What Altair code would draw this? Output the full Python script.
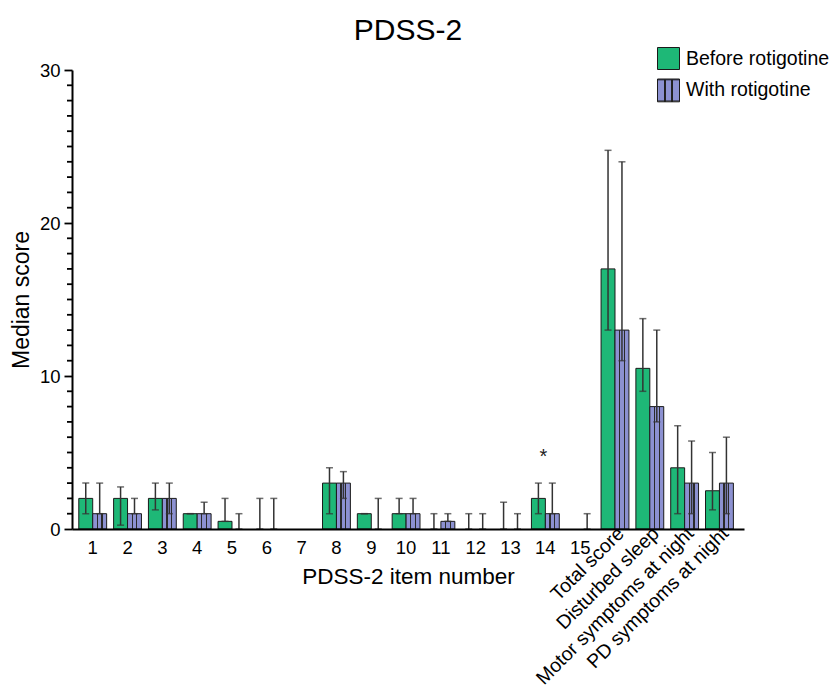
import altair as alt
import pandas as pd

categories = [str(i) for i in range(1, 16)] + [
    "Total score", "Disturbed sleep", "Motor symptoms at night", "PD symptoms at night"]
series = ["Before rotigotine", "With rotigotine"]

before_median = [2, 2, 2, 1, 0.5, 0, 0, 3, 1, 1, 0, 0, 0, 2, 0, 17, 10.5, 4, 2.5]
before_low = [1, 0.25, 1.25, 1, 0.5, 0, None, 1, 1, 1, 0, 0, 0, 1, None, 13, 9, 1, 1.25]
before_high = [3, 2.75, 3, 1, 2, 2, None, 4, 1, 2, 1, 1, 1.75, 3, None, 24.75, 13.75, 6.75, 5]

with_median = [1, 1, 2, 1, 0, 0, 0, 3, 0, 1, 0.5, 0, 0, 1, 0, 13, 8, 3, 3]
with_low = [1, 1, 1, 1, 0, 0, None, 2, 0, 1, 0.5, 0, 0, 1, 0, 11, 7, 1, 1]
with_high = [3, 2, 3, 1.75, 1, 2, None, 3.75, 2, 2, 1, 1, 1, 3, 1, 24, 13, 5.75, 6]

significant_items = ["14"]
significant_marker_y = [5]

y_major_ticks = [0, 10, 20, 30]
y_minor_ticks = [v for v in range(0, 31) if v % 10 != 0]

GREEN = "#1EB877"
BLUE = "#8C91D1"
FONT = "Liberation Sans"

rows = []
for i, c in enumerate(categories):
    rows.append({"cat": c, "series": series[0], "med": before_median[i],
                 "lo": before_low[i], "hi": before_high[i]})
    rows.append({"cat": c, "series": series[1], "med": with_median[i],
                 "lo": with_low[i], "hi": with_high[i]})
df = pd.DataFrame(rows)
sig_df = pd.DataFrame({"cat": significant_items, "y": significant_marker_y})
minor_df = pd.DataFrame({"v": y_minor_ticks})

xscale = alt.Scale(paddingInner=0.2, paddingOuter=0.25, align=0.39)
yscale = alt.Scale(domain=[0, 30], nice=False)

axis_num = alt.Axis(
    orient="bottom", title="PDSS-2 item number", titleFontSize=22.5, titleFontWeight="normal",
    titleColor="black", titleBaseline="top", titleY=36,
    labelAngle=0, labelExpr="length(datum.label) <= 2 ? datum.label : ''",
    labelFontSize=18.5, labelColor="black", labelPadding=9, ticks=False,
    labelOverlap=False, domainColor="black", domainWidth=2, zindex=1)
axis_txt = alt.Axis(
    orient="bottom", title=None, labelAngle=-45, labelAlign="right", labelBaseline="middle",
    labelExpr="length(datum.label) > 2 ? datum.label : ''",
    labelFontSize=19.5, labelColor="black", labelPadding=1, labelOffset=6,
    ticks=False, domain=False,
    labelOverlap=False, labelBound=False, labelLimit=400)
axis_y = alt.Axis(
    orient="left", title="Median score", titleFontSize=23, titleFontWeight="normal",
    titleColor="black", titlePadding=6, values=y_major_ticks, labelOverlap=False,
    labelFontSize=18.5, labelColor="black", labelPadding=4,
    tickColor="black", tickWidth=1.8, tickSize=8,
    domainColor="black", domainWidth=2, grid=False, zindex=1)

base = alt.Chart(df)
xoff = alt.XOffset("series:N", sort=series)

legend_common = dict(title=None, symbolSize=484, symbolStrokeWidth=1, symbolOpacity=1,
                     labelFontSize=19.5, labelColor="black", labelOffset=6,
                     rowPadding=4.5, padding=0, labelFont=FONT)

bars = base.transform_filter(alt.datum.med > 0).mark_bar(
    stroke="#1a1a1a", strokeWidth=1).encode(
    x=alt.X("cat:N", sort=categories, scale=xscale, axis=axis_num),
    xOffset=xoff,
    y=alt.Y("med:Q", scale=yscale, axis=axis_y),
    fill=alt.Fill("series:N", scale=alt.Scale(domain=series, range=[GREEN, BLUE]),
                  legend=alt.Legend(orient="none", legendX=585, legendY=-23,
                                    symbolType="square", symbolStrokeColor="#1a1a1a",
                                    **legend_common)),
)

stripe = alt.LinearGradient(
    gradient="linear", x1=0, x2=1, y1=0, y2=0,
    stops=[
        alt.GradientStop(color="rgba(0,0,0,0)", offset=0),
        alt.GradientStop(color="rgba(0,0,0,0)", offset=0.29),
        alt.GradientStop(color="#2a2a2a", offset=0.29),
        alt.GradientStop(color="#2a2a2a", offset=0.37),
        alt.GradientStop(color="rgba(0,0,0,0)", offset=0.37),
        alt.GradientStop(color="rgba(0,0,0,0)", offset=0.63),
        alt.GradientStop(color="#2a2a2a", offset=0.63),
        alt.GradientStop(color="#2a2a2a", offset=0.71),
        alt.GradientStop(color="rgba(0,0,0,0)", offset=0.71),
        alt.GradientStop(color="rgba(0,0,0,0)", offset=1),
    ])

striped_square = "M-1,-1H1V1H-1Z M-0.33,-1V1 M0.33,-1V1"
stripes = base.transform_filter(
    (alt.datum.series == series[1]) & (alt.datum.med > 0)
).mark_bar(fill=stripe, strokeWidth=0).encode(
    x=alt.X("cat:N", sort=categories, scale=xscale, axis=None),
    xOffset=xoff,
    y=alt.Y("med:Q", scale=yscale, axis=None),
    stroke=alt.Stroke("series:N", scale=alt.Scale(domain=[series[1]], range=["#1a1a1a"]),
                      legend=alt.Legend(orient="none", legendX=585, legendY=9.3,
                                        symbolType=striped_square,
                                        symbolFillColor=BLUE,
                                        labelExpr="''", **legend_common)),
)

rules = base.mark_rule(color="#333333", strokeWidth=1.5).encode(
    x=alt.X("cat:N", sort=categories, scale=xscale, axis=axis_txt),
    xOffset=xoff,
    y=alt.Y("lo:Q", scale=yscale, axis=None),
    y2="hi:Q",
)
caps_hi = base.mark_tick(color="#333333", thickness=1.5, size=7).encode(
    x=alt.X("cat:N", sort=categories, scale=xscale, axis=None),
    xOffset=xoff,
    y=alt.Y("hi:Q", scale=yscale, axis=None),
)
caps_lo = base.mark_tick(color="#333333", thickness=1.5, size=7).encode(
    x=alt.X("cat:N", sort=categories, scale=xscale, axis=None),
    xOffset=xoff,
    y=alt.Y("lo:Q", scale=yscale, axis=None),
)

star = alt.Chart(sig_df).mark_text(text="*", fontSize=20, baseline="middle", dy=4, dx=-2,
                                    color="#222222", font=FONT).encode(
    x=alt.X("cat:N", sort=categories, scale=xscale, axis=None),
    y=alt.Y("y:Q", scale=yscale, axis=None),
)

# minor ticks of the y axis (one per score unit)
minor = alt.Chart(minor_df).mark_rule(color="black", strokeWidth=1.8).encode(
    y=alt.Y("v:Q", scale=yscale, axis=None),
    x=alt.value(-5), x2=alt.value(0),
)

chart = alt.layer(bars, stripes, rules, caps_hi, caps_lo, star, minor).resolve_axis(
    x="independent", y="independent"
).properties(
    width=672, height=459,
    title=alt.TitleParams("PDSS-2", fontSize=30, fontWeight="normal", anchor="middle",
                          color="black", font=FONT, offset=1, frame="group"),
    autosize=alt.AutoSizeParams(type="none"),
    padding={"left": 72, "top": 70, "right": 86, "bottom": 162},
).configure(font=FONT).configure_view(stroke=None)

chart.save("out.html", embed_options={"renderer": "svg", "actions": False})
